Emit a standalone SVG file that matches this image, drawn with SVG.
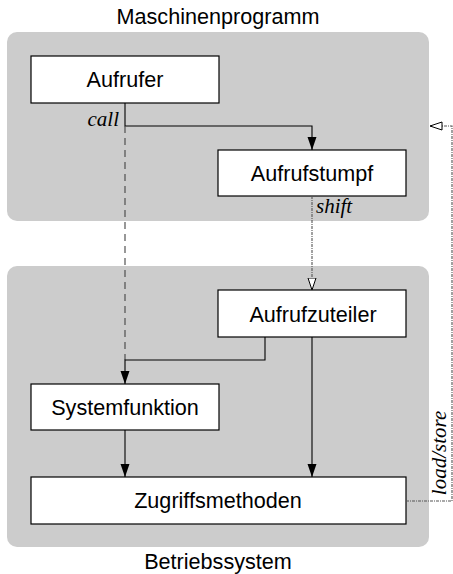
<svg xmlns="http://www.w3.org/2000/svg" width="453" height="574" viewBox="0 0 453 574">
<style>
.grp{fill:#cccccc;stroke:none}
.box{fill:#ffffff;stroke:#000;stroke-width:1.2}
.lbl{font-family:"Liberation Sans",Arial,sans-serif;font-size:21.6px;fill:#000;text-anchor:middle}
.it{font-family:"Liberation Serif","Times New Roman",serif;font-style:italic;font-size:21px;fill:#000}
.solid{fill:none;stroke:#000;stroke-width:1.1}
.dash{fill:none;stroke:#444;stroke-width:1.1;stroke-dasharray:7,5}
.dot{fill:none;stroke:#555;stroke-width:1.1;stroke-dasharray:3,1,1,1}
</style>
<defs>
<marker id="af" markerUnits="userSpaceOnUse" markerWidth="14" markerHeight="10" refX="13" refY="4.5" orient="auto">
<path d="M0,0 L13,4.5 L0,9 Z" fill="#000"/>
</marker>
<marker id="ao" markerUnits="userSpaceOnUse" markerWidth="14" markerHeight="10" refX="12.5" refY="4.5" orient="auto">
<path d="M0.5,0.5 L12.5,4.5 L0.5,8.5 Z" fill="#fff" stroke="#000" stroke-width="1"/>
</marker>
</defs>
<g id="maschinenprogramm">
<rect class="grp" x="7" y="32" width="422" height="189" rx="10"/>
<text class="lbl" x="218" y="24">Maschinenprogramm</text>
</g>
<g id="betriebssystem">
<rect class="grp" x="7" y="266" width="422" height="281" rx="10"/>
<text class="lbl" x="218" y="569">Betriebssystem</text>
</g>
<g id="aufrufer">
<rect class="box" x="31" y="56" width="188" height="47"/>
<text class="lbl" x="125" y="87">Aufrufer</text>
</g>
<g id="aufrufstumpf">
<rect class="box" x="218" y="150" width="188" height="46"/>
<text class="lbl" x="312" y="181">Aufrufstumpf</text>
</g>
<g id="aufrufzuteiler">
<rect class="box" x="218" y="290" width="188" height="47"/>
<text class="lbl" x="313" y="322">Aufrufzuteiler</text>
</g>
<g id="systemfunktion">
<rect class="box" x="31" y="384" width="188" height="46"/>
<text class="lbl" x="125" y="415">Systemfunktion</text>
</g>
<g id="zugriffsmethoden">
<rect class="box" x="31" y="477" width="375" height="47"/>
<text class="lbl" x="218" y="508">Zugriffsmethoden</text>
</g>
<g id="connectors">
<path class="solid" d="M125,103 V126 H312 V150" marker-end="url(#af)"/>
<path class="dash" d="M125,126 V360"/>
<path class="solid" d="M265,337 V360 H125 V384" marker-end="url(#af)"/>
<path class="solid" d="M312,337 V477" marker-end="url(#af)"/>
<path class="solid" d="M125,430 V477" marker-end="url(#af)"/>
<path class="dot" d="M312,196 V290" marker-end="url(#ao)"/>
<path class="dot" d="M406,501 H452 V126 H430" marker-end="url(#ao)"/>
<text class="it" x="119" y="126" text-anchor="end">call</text>
<text class="it" x="316" y="213">shift</text>
<text class="it" transform="translate(446,453) rotate(-90)" text-anchor="middle">load/store</text>
</g>
</svg>
